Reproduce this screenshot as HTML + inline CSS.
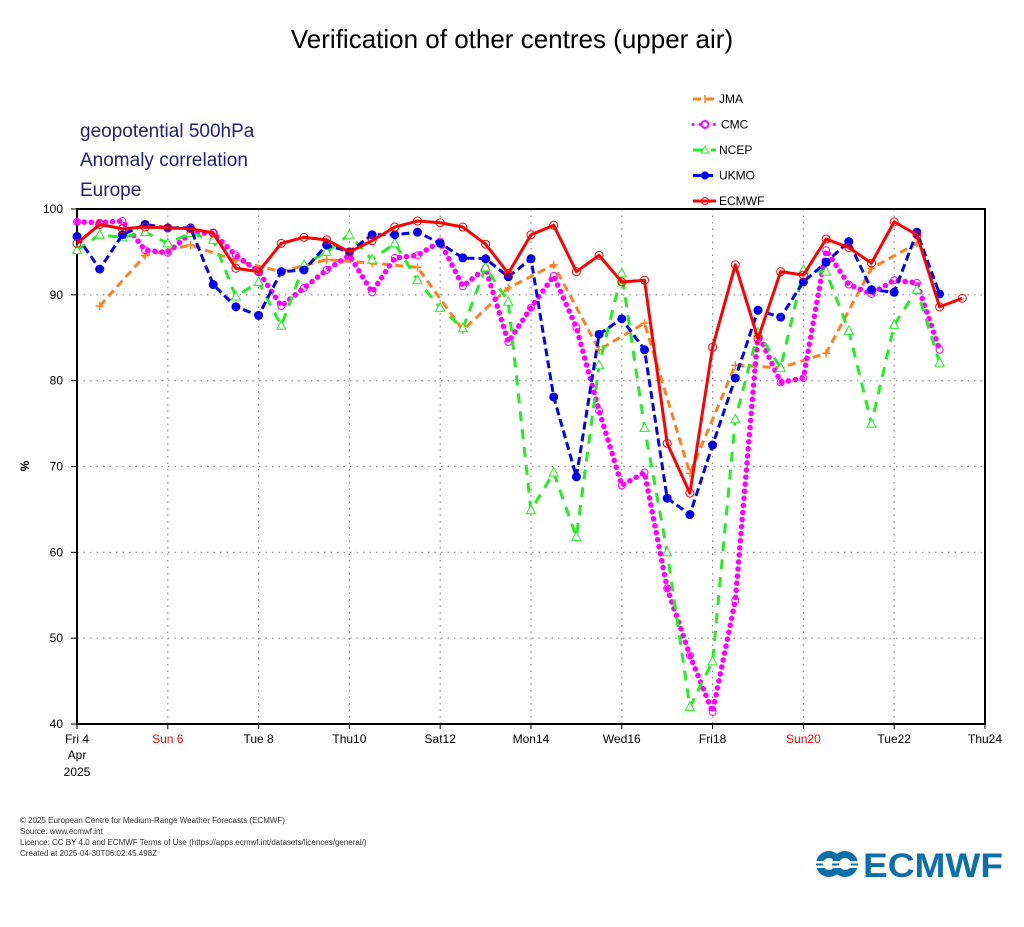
<!DOCTYPE html>
<html><head><meta charset="utf-8"><style>
body{margin:0;background:#fff;width:1024px;height:922px;overflow:hidden;font-family:"Liberation Sans",sans-serif}
</style></head><body>
<svg id="chart" width="1024" height="922" xmlns="http://www.w3.org/2000/svg" font-family="Liberation Sans, sans-serif">
<text x="512" y="48" text-anchor="middle" font-size="26">Verification of other centres (upper air)</text>
<g fill="#1f1f7a" font-size="19">
<text x="80" y="137">geopotential 500hPa</text>
<text x="80" y="166">Anomaly correlation</text>
<text x="80" y="196">Europe</text>
</g>
<text x="29" y="466" font-size="12" font-weight="bold" transform="rotate(-90 29 466)" text-anchor="middle">%</text>
<g id="grid"></g>
<g id="axes"></g>
<g id="series"></g>
<g id="legend"></g>
<g font-size="8" fill="#333">
<text x="20" y="823">© 2025 European Centre for Medium-Range Weather Forecasts (ECMWF)</text>
<text x="20" y="834">Source: www.ecmwf.int</text>
<text x="20" y="845">Licence: CC BY 4.0 and ECMWF Terms of Use (https://apps.ecmwf.int/datasets/licences/general/)</text>
<text x="20" y="856">Created at 2025-04-30T06:02:45.498Z</text>
</g>
<g>
<circle cx="829" cy="864" r="13" fill="#0b6fa8"/><circle cx="829" cy="864" r="6" fill="#fff"/>
<circle cx="845" cy="864" r="13" fill="#0b6fa8"/><circle cx="845" cy="864" r="6" fill="#fff"/>
<rect x="815" y="861" width="44" height="2.5" fill="#fff"/><rect x="815" y="865.5" width="44" height="2.5" fill="#fff"/>
<text x="863" y="877" font-size="34" font-weight="bold" fill="#0b6fa8" textLength="140" lengthAdjust="spacingAndGlyphs">ECMWF</text>
</g>
</svg>
<script>
const xTickLabels=["Fri 4","Sun 6","Tue 8","Thu10","Sat12","Mon14","Wed16","Fri18","Sun20","Tue22","Thu24"];
const xTickRed=[false,true,false,false,false,false,false,false,true,false,false];
const yTicks=[40,50,60,70,80,90,100];
const ecmwf=[96.0,98.2,97.7,97.9,97.8,97.7,97.2,93.1,92.7,96.0,96.7,96.4,95.0,96.3,97.9,98.6,98.4,97.9,95.9,92.5,97.0,98.1,92.7,94.6,91.5,91.7,72.7,66.9,83.9,93.5,84.9,92.7,92.3,96.5,95.5,93.7,98.5,97.0,88.6,89.6];
const ukmo=[96.8,93.0,97.0,98.2,97.8,97.8,91.2,88.6,87.6,92.7,92.9,95.8,95.0,97.0,97.0,97.3,96.0,94.3,94.2,92.1,94.2,78.1,68.8,85.4,87.2,83.6,66.3,64.4,72.5,80.3,88.2,87.4,91.5,93.8,96.2,90.6,90.3,97.3,90.1];
const cmc=[98.5,98.4,98.6,95.2,94.9,97.2,97.2,94.6,92.7,88.7,90.8,92.9,94.6,90.3,94.3,94.6,96.2,91.0,93.1,84.5,88.5,92.2,86.2,76.5,67.8,69.3,55.8,48.0,41.4,54.4,85.5,79.8,80.3,95.2,91.2,90.1,91.7,91.4,83.6];
const ncep=[95.2,97.0,96.7,97.3,96.0,97.2,96.4,89.8,91.5,86.4,93.5,95.0,97.0,94.1,96.0,91.7,88.5,86.1,93.2,89.2,64.9,69.3,61.8,81.8,92.5,74.5,60.0,42.0,47.3,75.5,85.6,81.5,92.9,92.7,85.8,75.0,86.5,90.6,82.1];
const jmaIdx=[1,3,5,7,9,11,13,15,17,19,21,23,25,27,29,31,33,35,37];
const jma=[88.7,94.6,95.8,94.0,92.7,94.1,93.7,93.2,85.9,90.8,93.5,83.6,86.7,69.2,81.8,81.5,83.2,93.1,96.0];

const NS="http://www.w3.org/2000/svg";
const L=77,R=985,T=209,B=724;
const X=i=>L+(R-L)*i/40;
const Y=v=>B-(v-40)/60*(B-T);
function mk(tag,attrs,parent){const e=document.createElementNS(NS,tag);for(const k in attrs)e.setAttribute(k,attrs[k]);parent.appendChild(e);return e;}
const grid=document.getElementById('grid'),axes=document.getElementById('axes'),series=document.getElementById('series'),legend=document.getElementById('legend');
yTicks.forEach(v=>{
  if(v>40&&v<100){const g=mk('line',{x1:L,x2:R,y1:Y(v),y2:Y(v),stroke:'#888','stroke-dasharray':'1.5 5','stroke-width':1.2},grid);
  
  }
  const t=mk('text',{x:L-14,y:Y(v)+4,'text-anchor':'end','font-size':12},axes);t.textContent=v;
  
  
  mk('line',{x1:L-6,x2:L,y1:Y(v),y2:Y(v),stroke:'#000','stroke-width':1},axes);
});
xTickLabels.forEach((s,k)=>{
  const x=X(k*4);
  if(k>0&&k<10){const g=mk('line',{x1:x,x2:x,y1:T,y2:B,stroke:'#888','stroke-dasharray':'1.5 5','stroke-width':1.2},grid);
  
  }
  mk('line',{x1:x,x2:x,y1:B,y2:B+5,stroke:'#000'},axes);
  const t=mk('text',{x:x,y:B+19,'text-anchor':'middle','font-size':12,fill:xTickRed[k]?'#f00':'#000'},axes);t.textContent=s;
  
  
});
[["Apr",B+35],["2025",B+52]].forEach(a=>{const t=mk('text',{x:L,y:a[1],'text-anchor':'middle','font-size':12},axes);t.textContent=a[0];

});
mk('rect',{x:L,y:T,width:R-L,height:B-T,fill:'none',stroke:'#000','stroke-width':2},axes);

function drawSeries(name,idx,vals,color,dash,width,marker){
  const g=mk('g',{},series);
  
  
  const pts=vals.map((v,j)=>[X(idx?idx[j]:j),Y(v)]);
  const p=mk('polyline',{points:pts.map(p=>p.join(',')).join(' '),fill:'none',stroke:color,'stroke-width':width,'stroke-dasharray':dash,'stroke-linecap':marker==='dot'?'round':'butt','stroke-linejoin':'round'},g);
  
  
  pts.forEach(([x,y])=>{
    let m;
    if(marker==='fill')m=mk('circle',{cx:x,cy:y,r:4.5,fill:color},g);
    else if(marker==='ring')m=mk('circle',{cx:x,cy:y,r:4,fill:'none',stroke:color,'stroke-width':1},g);
    else if(marker==='tri')m=mk('path',{d:`M${x},${y-5}L${x+4.5},${y+3.5}L${x-4.5},${y+3.5}Z`,fill:'#fff',stroke:color,'stroke-width':1},g);
    else if(marker==='plus')m=mk('path',{d:`M${x-4},${y}H${x+4}M${x},${y-4}V${y+4}`,stroke:color,'stroke-width':1.5},g);
    else m=mk('circle',{cx:x,cy:y,r:3.5,fill:'none',stroke:color,'stroke-width':1},g);
    
    
  });
}
drawSeries('jma',jmaIdx,jma,'#ff8020','8 5',3,'plus');
drawSeries('cmc',null,cmc,'#ff00ff','0.1 7',5.5,'dot');
drawSeries('ncep',null,ncep,'#22ee22','10 8',3,'tri');
drawSeries('ukmo',null,ukmo,'#0000ee','8 4',3,'fill');
drawSeries('ecmwf',null,ecmwf,'#ff0000','',3,'ring');

const leg=[["JMA",'#ff8020','8 5','plus'],["CMC",'#ff00ff','0.1 7','dot'],["NCEP",'#22ee22','10 8','tri'],["UKMO",'#0000ee','8 4','fill'],["ECMWF",'#ff0000','','ring']];
leg.forEach((e,k)=>{
  const y=99+k*25.5;
  const g=mk('g',{},legend);
  
  
  mk('line',{x1:693,x2:716,y1:y,y2:y,stroke:e[1],'stroke-width':3,'stroke-dasharray':e[2],'stroke-linecap':e[3]==='dot'?'round':'butt'},g);
  const x=705;
  if(e[3]==='fill')mk('circle',{cx:x,cy:y,r:4,fill:e[1]},g);
  else if(e[3]==='ring')mk('circle',{cx:x,cy:y,r:3.5,fill:'none',stroke:e[1]},g);
  else if(e[3]==='tri')mk('path',{d:`M${x},${y-4}L${x+4},${y+3}L${x-4},${y+3}Z`,fill:'#fff',stroke:e[1]},g);
  else if(e[3]==='plus')mk('path',{d:`M${x},${y-4}V${y+4}`,stroke:e[1],'stroke-width':1.5},g);
  else mk('circle',{cx:x,cy:y,r:3.5,fill:'#fff',stroke:e[1],'stroke-width':2},g);
  const t=mk('text',{x:e[0]==="CMC"?721:719,y:y+4,'font-size':12},g);t.textContent=e[0];
});
</script>
</body></html>
